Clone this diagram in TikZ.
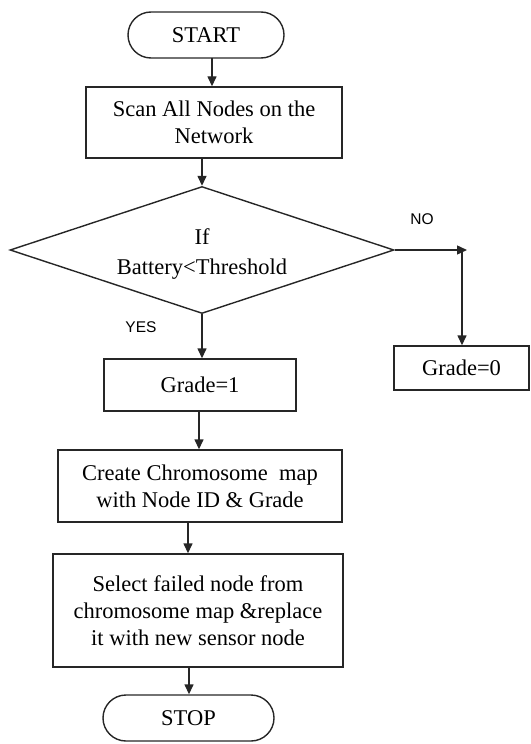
\documentclass[tikz,border=0pt]{standalone}
\usepackage{fontspec}
\setmainfont{Liberation Serif}
\setsansfont{Liberation Sans}
\usetikzlibrary{shapes.geometric,arrows.meta}
\tikzset{
  box/.style={draw=black!85, line width=1.4bp, rectangle, inner sep=0pt, align=center,
    font=\fontsize{22.5bp}{27bp}\selectfont},
  term/.style={box, rounded corners=23bp},
  decision/.style={draw=black!85, line width=1.4bp, diamond, aspect=3, inner sep=0pt},
  dtext/.style={align=center, font=\fontsize{22.5bp}{30bp}\selectfont},
  lbl/.style={font=\sffamily\fontsize{15.5bp}{18bp}\selectfont, inner sep=0pt},
  arr/.style={draw=black!85, line width=1.4bp, -{Triangle[length=10bp,width=9bp]}}
}
\begin{document}
\begin{tikzpicture}[x=1bp,y=-1bp]
\useasboundingbox (0,0) rectangle (531,744);
\node[term, minimum width=156bp, minimum height=46bp] (start) at (206,35) {START};
\node[box, minimum width=256bp, minimum height=71bp] (scan) at (214,122.5) {Scan All Nodes on the\\Network};
\node[decision, minimum width=384bp, minimum height=127bp,
  label={[dtext, yshift=-4bp]center:If\\Battery<Threshold}] (dec) at (202,250) {};
\node[lbl] (no) at (422,219) {NO};
\node[lbl] (yes) at (141,327) {YES};
\node[box, minimum width=135bp, minimum height=44bp] (g0) at (461.5,368) {Grade=0};
\node[box, minimum width=192bp, minimum height=52bp] (g1) at (200,385) {Grade=1};
\node[box, minimum width=284bp, minimum height=72bp] (create) at (200,486) {Create Chromosome\ \ map\\with Node ID \& Grade};
\node[box, minimum width=290bp, minimum height=113bp] (select) at (198,610.5) {Select failed node from\\chromosome map \&replace\\it with new sensor node};
\node[term, minimum width=171bp, minimum height=46bp] (stop) at (188.5,718) {STOP};

\coordinate (a1) at (212,58);
\draw[arr] (a1) -- (a1 |- scan.north);
\draw[arr] (scan.south -| dec.north) -- (dec.north);
\coordinate (nr) at (467,0);
\coordinate (nv) at (462,0);
\draw[arr] (dec.east) -- (dec.east -| nr);
\draw[arr] (dec.east -| nv) -- (g0.north -| nv);
\draw[arr] (dec.south) -- (g1.north -| dec.south);
\draw[arr] (g1.south -| 199,0) -- (create.north -| 199,0);
\draw[arr] (create.south -| 188,0) -- (select.north -| 188,0);
\draw[arr] (select.south -| 189,0) -- (stop.north -| 189,0);
\end{tikzpicture}
\end{document}
